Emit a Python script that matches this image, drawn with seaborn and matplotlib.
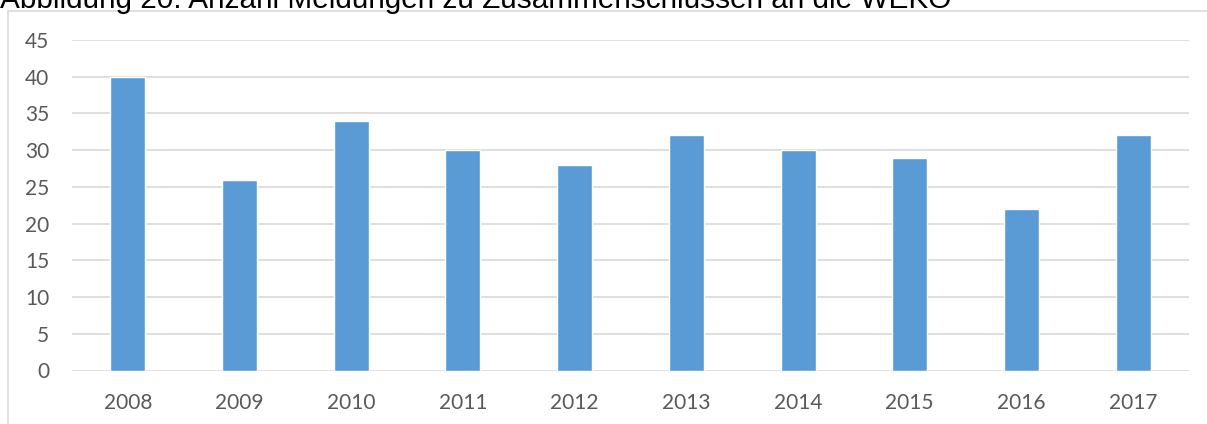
import matplotlib
matplotlib.use("Agg")
import matplotlib.pyplot as plt
from matplotlib.patches import Rectangle
import pandas as pd
import seaborn as sns

# Data
years = ["2008", "2009", "2010", "2011", "2012", "2013", "2014", "2015", "2016", "2017"]
meldungen = [40, 26, 34, 30, 28, 32, 30, 29, 22, 32]
y_ticks = [0, 5, 10, 15, 20, 25, 30, 35, 40, 45]
title = "Abbildung 20: Anzahl Meldungen zu Zusammenschlüssen an die WEKO"

df = pd.DataFrame({"Jahr": years, "Anzahl": meldungen})

sns.set_theme(style="white")
plt.rcParams['font.family'] = ['Lato', 'DejaVu Sans']

fig = plt.figure(figsize=(12.07, 4.24), dpi=100)
ax = fig.add_axes([72 / 1207, 1 - 370.5 / 424, (1189 - 72) / 1207, (370.5 - 40) / 424])

sns.barplot(data=df, x="Jahr", y="Anzahl", color="#5b9bd5", saturation=1,
            width=0.313, ax=ax, zorder=3)

ax.set_ylim(0, 45)
ax.set_xlim(-0.5, len(years) - 0.5)
ax.set_yticks(y_ticks)
ax.yaxis.grid(True, color="#d9d9d9", linewidth=1.2, zorder=0)
ax.set_axisbelow(True)
for s in ax.spines.values():
    s.set_visible(False)
ax.tick_params(axis="both", length=0, labelsize=15, labelcolor="#595959")
ax.tick_params(axis="y", pad=16.5)
ax.tick_params(axis="x", pad=16)
ax.set_xlabel("")
ax.set_ylabel("")

# chart frame (cut at right and bottom)
fig.patches.append(Rectangle((8 / 1207, -0.1), 1.2, 1 - 11 / 424 + 0.1,
                             transform=fig.transFigure, fill=False,
                             edgecolor="#d9d9d9", linewidth=1.2))

# title, cut off at the top edge like in the source
fig.text(0.0, 1 - 8 / 424, title, fontsize=21.4, family=['Liberation Sans', 'DejaVu Sans'],
         color="black", ha="left", va="baseline")

fig.savefig("out.png", dpi=100)
